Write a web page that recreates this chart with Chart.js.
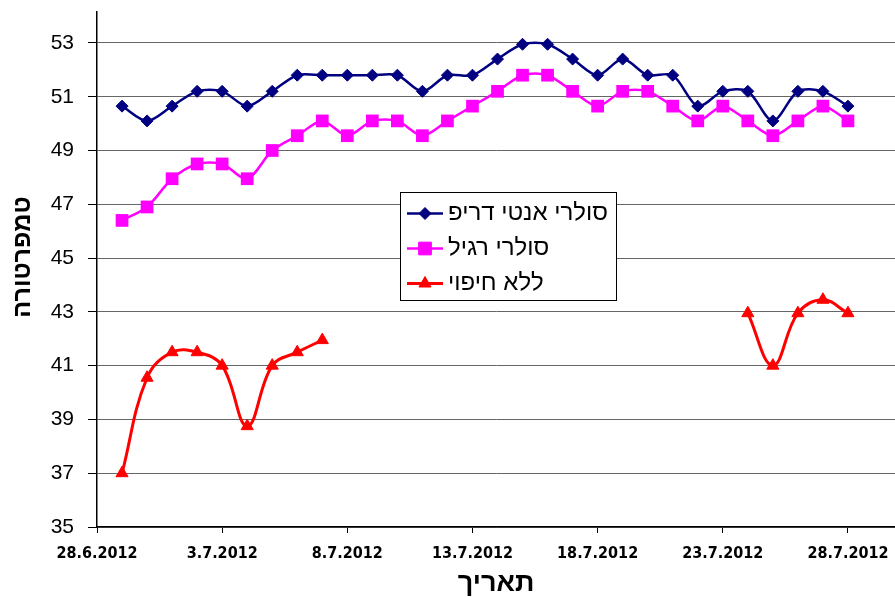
<!DOCTYPE html>
<html lang="he">
<head>
<meta charset="utf-8">
<title>טמפרטורה לפי תאריך</title>
<script src="https://cdn.jsdelivr.net/npm/chart.js@4.4.1/dist/chart.umd.min.js"></script>
<style>
  html, body { margin: 0; padding: 0; background: #fff; }
  canvas { display: block; }
</style>
</head>
<body>
<canvas id="chart" width="895" height="597"></canvas>
<script>
// Measurement days (29.6.2012 – 28.7.2012)
const dates = [
  '29.6.2012', '30.6.2012', '1.7.2012', '2.7.2012', '3.7.2012', '4.7.2012',
  '5.7.2012', '6.7.2012', '7.7.2012', '8.7.2012', '9.7.2012', '10.7.2012',
  '11.7.2012', '12.7.2012', '13.7.2012', '14.7.2012', '15.7.2012', '16.7.2012',
  '17.7.2012', '18.7.2012', '19.7.2012', '20.7.2012', '21.7.2012', '22.7.2012',
  '23.7.2012', '24.7.2012', '25.7.2012', '26.7.2012', '27.7.2012', '28.7.2012'
];

// Anti-drip solar film
const antiDrip = [
  50.65, 50.1, 50.65, 51.2, 51.2, 50.65, 51.2, 51.8, 51.8, 51.8, 51.8, 51.8, 51.2, 51.8, 51.8,
  52.4, 52.95, 52.95, 52.4, 51.8, 52.4, 51.8, 51.8, 50.65, 51.2, 51.2, 50.1, 51.2, 51.2, 50.65
];

// Regular solar film
const regular = [
  46.4, 46.9, 47.95, 48.5, 48.5, 47.95, 49.0, 49.55, 50.1, 49.55, 50.1, 50.1, 49.55, 50.1, 50.65,
  51.2, 51.8, 51.8, 51.2, 50.65, 51.2, 51.2, 50.65, 50.1, 50.65, 50.1, 49.55, 50.1, 50.65, 50.1
];

// No mulch (no readings 8.7 – 23.7)
const noCover = [
  37.0, 40.55, 41.5, 41.5, 41.0, 38.75, 41.0, 41.5, 41.95,
  null, null, null, null, null, null, null, null, null, null, null, null, null, null, null, null,
  42.95, 41.0, 42.95, 43.45, 42.95
];

const seriesNames = ['סולרי אנטי דריפ', 'סולרי רגיל', 'ללא חיפוי'];
const yTitle = 'טמפרטורה';
const xTitle = 'תאריך';

// Axis tick labels
const xTickLabels = ['28.6.2012', '3.7.2012', '8.7.2012', '13.7.2012', '18.7.2012', '23.7.2012', '28.7.2012'];
const yTickValues = [35, 37, 39, 41, 43, 45, 47, 49, 51, 53];

// Days counted from the first x tick label
function dayNumber(s) {
  const [d, m, y] = s.split('.').map(Number);
  return Date.UTC(y, m - 1, d) / 86400000;
}
const day0 = dayNumber(xTickLabels[0]);
const toPoints = vals => vals.map((v, i) => ({ x: dayNumber(dates[i]) - day0, y: v }));

const FONT = '"Liberation Sans", Arial, sans-serif';
const NARROW = '"Liberation Sans Narrow", "Arial Narrow", "DejaVu Sans Condensed", sans-serif';

// Boxed legend drawn inside the plot
const boxLegend = {
  id: 'boxLegend',
  afterDatasetsDraw(chart, args, opts) {
    const ctx = chart.ctx;
    const { left, top, width, height, rowHeight, lineLen, gap } = opts;
    ctx.save();
    ctx.fillStyle = '#fff';
    ctx.fillRect(left, top, width, height);
    ctx.strokeStyle = '#000';
    ctx.lineWidth = 1;
    ctx.strokeRect(left + 0.5, top + 0.5, width, height);
    ctx.font = '24px ' + FONT;
    ctx.textBaseline = 'middle';
    ctx.textAlign = 'left';
    chart.data.datasets.forEach((ds, i) => {
      const cy = top + rowHeight * (i + 0.5) + 4;
      const x0 = left + 7;
      ctx.strokeStyle = ds.borderColor;
      ctx.lineWidth = ds.borderWidth;
      ctx.beginPath();
      ctx.moveTo(x0, cy);
      ctx.lineTo(x0 + lineLen, cy);
      ctx.stroke();
      ctx.fillStyle = ds.pointBackgroundColor;
      ctx.strokeStyle = ds.pointBorderColor;
      ctx.lineWidth = 1;
      Chart.helpers.drawPoint(ctx, {
        pointStyle: ds.pointStyle, radius: ds.pointRadius, rotation: 0, borderWidth: 1
      }, x0 + lineLen / 2, cy);
      ctx.fillStyle = '#000';
      ctx.fillText(ds.label, x0 + lineLen + gap, cy);
    });
    ctx.restore();
  }
};

// Vertical axis title, rotated, sitting a little above the axis centre
const sideTitle = {
  id: 'sideTitle',
  afterDraw(chart, args, opts) {
    const ctx = chart.ctx;
    ctx.save();
    ctx.translate(opts.x, opts.y);
    ctx.rotate(-Math.PI / 2);
    ctx.font = 'bold ' + opts.size + 'px ' + FONT;
    ctx.fillStyle = '#000';
    ctx.textAlign = 'center';
    ctx.textBaseline = 'middle';
    ctx.fillText(opts.text, 0, 0);
    ctx.restore();
  }
};

new Chart(document.getElementById('chart'), {
  type: 'line',
  data: {
    datasets: [
      {
        label: seriesNames[0],
        data: toPoints(antiDrip),
        borderColor: '#000080', backgroundColor: '#000080',
        pointBackgroundColor: '#000080', pointBorderColor: '#000080',
        borderWidth: 2.5, pointStyle: 'rectRot', pointRadius: 6, pointBorderWidth: 1,
        tension: 0.3
      },
      {
        label: seriesNames[1],
        data: toPoints(regular),
        borderColor: '#ff00ff', backgroundColor: '#ff00ff',
        pointBackgroundColor: '#ff00ff', pointBorderColor: '#ff00ff',
        borderWidth: 2.5, pointStyle: 'rect', pointRadius: 9, pointBorderWidth: 0,
        tension: 0.3
      },
      {
        label: seriesNames[2],
        data: toPoints(noCover),
        borderColor: '#ff0000', backgroundColor: '#ff0000',
        pointBackgroundColor: '#ff0000', pointBorderColor: '#ff0000',
        borderWidth: 3, pointStyle: 'triangle', pointRadius: 7, pointBorderWidth: 1,
        tension: 0.4, spanGaps: false
      }
    ]
  },
  options: {
    responsive: false,
    animation: false,
    devicePixelRatio: 1,
    layout: { autoPadding: false, padding: { top: 12, right: 0, bottom: 0, left: 0 } },
    plugins: {
      legend: { display: false },
      tooltip: { enabled: false },
      boxLegend: { left: 400, top: 192, width: 216, height: 108, rowHeight: 35, lineLen: 36, gap: 5 },
      sideTitle: { text: yTitle, x: 23, y: 257, size: 25 }
    },
    scales: {
      x: {
        type: 'linear',
        min: 0,
        max: 31.88,
        afterBuildTicks(scale) {
          scale.ticks = xTickLabels.map(l => ({ value: dayNumber(l) - day0 }));
        },
        afterFit(scale) {
          scale.height = 70;
          scale.paddingLeft = 0;
          scale.paddingRight = 0;
        },
        grid: { drawOnChartArea: false, tickLength: 6, tickColor: '#000', tickWidth: 1 },
        border: { color: '#000', width: 1.5 },
        ticks: {
          autoSkip: false, maxRotation: 0, minRotation: 0, padding: 11, color: '#000',
          font: { family: NARROW, size: 16, weight: 'bold' },
          callback: (v) => {
            const idx = xTickLabels.findIndex(l => dayNumber(l) - day0 === v);
            return idx >= 0 ? xTickLabels[idx] : '';
          }
        },
        title: {
          display: true, text: xTitle, color: '#000',
          font: { family: FONT, size: 27, weight: 'bold' },
          padding: { top: 0, bottom: -3 }
        }
      },
      y: {
        min: 35,
        max: 54.15,
        afterBuildTicks(scale) {
          scale.ticks = yTickValues.map(v => ({ value: v }));
        },
        afterFit(scale) {
          scale.width = 97;
          scale.paddingTop = 0;
          scale.paddingBottom = 0;
        },
        grid: { color: '#666', lineWidth: 1, tickLength: 9, tickColor: '#000' },
        border: { color: '#000', width: 1.5 },
        ticks: {
          padding: 14, color: '#000',
          font: { family: FONT, size: 21 }
        },
        title: { display: false }
      }
    }
  },
  plugins: [boxLegend, sideTitle]
});
</script>
</body>
</html>
